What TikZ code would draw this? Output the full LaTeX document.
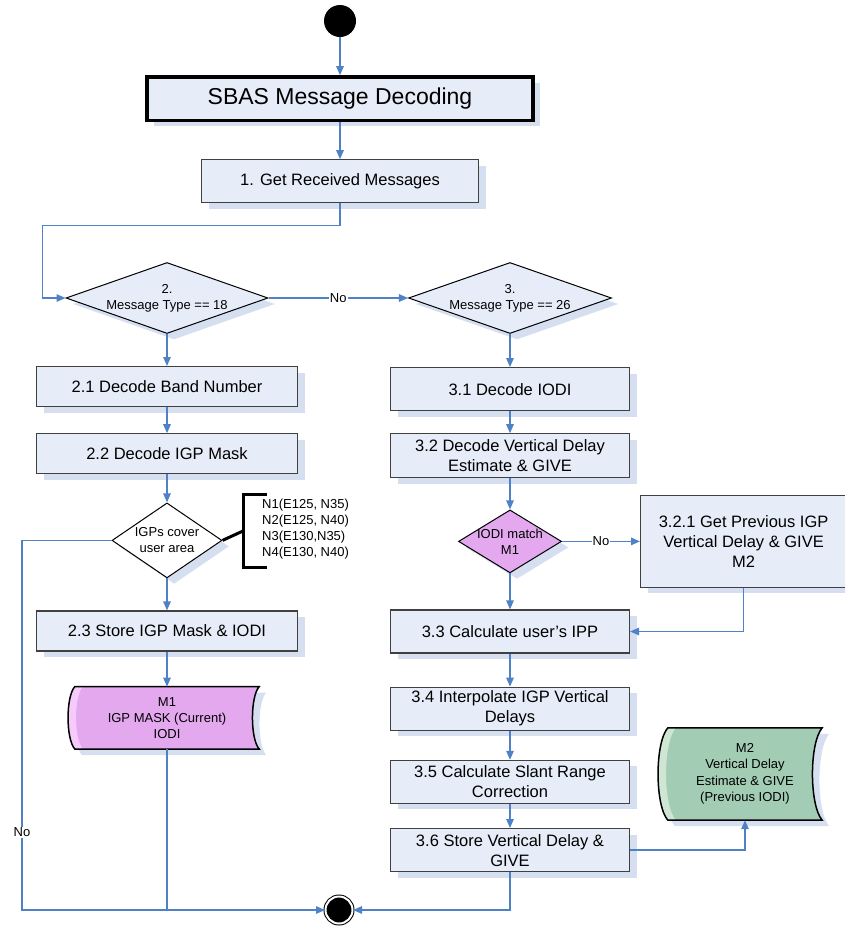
\documentclass[tikz,border=0pt]{standalone}
\usepackage{fontspec}
\setmainfont{Liberation Sans}
\usetikzlibrary{positioning,shapes.geometric,shadows,arrows.meta,backgrounds}

\definecolor{boxfill}{RGB}{231,237,248}
\definecolor{boxline}{RGB}{64,64,64}
\definecolor{shadowblue}{RGB}{214,223,240}
\definecolor{flowblue}{RGB}{79,129,199}
\definecolor{maskpink}{RGB}{227,168,238}
\definecolor{masklight}{RGB}{246,202,250}
\definecolor{delaygreen}{RGB}{163,204,181}
\definecolor{delaylight}{RGB}{206,230,211}

\newcommand{\procfont}{\fontsize{16.5}{20}\selectfont}
\newcommand{\titlefont}{\fontsize{23}{27}\selectfont}
\newcommand{\notefont}{\fontsize{13}{16}\selectfont}

% stored data outline round a node: #1 node, #2 bulge, #3 control drop, #4 fill, #5 highlight
\newcommand{\storedshape}[5]{%
  \fill[shadowblue] ([shift={(7pt,-6pt)}]#1.north west) -- ([shift={(7pt,-6pt)}]#1.north east)
    .. controls +(-#2,-#3) and +(-#2,#3) .. ([shift={(7pt,-6pt)}]#1.south east)
    -- ([shift={(7pt,-6pt)}]#1.south west)
    .. controls +(-#2,#3) and +(-#2,-#3) .. ([shift={(7pt,-6pt)}]#1.north west) -- cycle;
  \fill[#4] (#1.north west) -- (#1.north east)
    .. controls +(-#2,-#3) and +(-#2,#3) .. (#1.south east)
    -- (#1.south west)
    .. controls +(-#2,#3) and +(-#2,-#3) .. (#1.north west) -- cycle;
  \fill[#5] (#1.north west)
    .. controls +(-#2,-#3) and +(-#2,#3) .. (#1.south west)
    -- ([xshift=8pt]#1.south west)
    .. controls +(-#2,#3) and +(-#2,-#3) .. ([xshift=8pt]#1.north west) -- cycle;
  \draw[black, line width=1.5pt] (#1.north west) -- (#1.north east)
    .. controls +(-#2,-#3) and +(-#2,#3) .. (#1.south east)
    -- (#1.south west)
    .. controls +(-#2,#3) and +(-#2,-#3) .. (#1.north west) -- cycle;
}

\begin{document}
\begin{tikzpicture}[%
  x=1pt, y=-1pt,
  >={Triangle[length=9pt,width=7.5pt]},
  flow/.style={->, draw=flowblue, line width=1.3pt},
  plainline/.style={draw=flowblue, line width=1.3pt},
  bracket/.style={draw=black, line width=3pt},
  boxshadow/.style={drop shadow={shadow xshift=7pt, shadow yshift=-6pt, fill=shadowblue, opacity=1}},
  stepbox/.style={rectangle, draw=boxline, line width=1.2pt, fill=boxfill, boxshadow,
    align=center, inner sep=2pt, font=\procfont, minimum height=40pt},
  titlebox/.style={stepbox, draw=black, line width=3.5pt, font=\titlefont},
  leftbox/.style={stepbox, minimum width=261pt},
  rightbox/.style={stepbox, minimum width=239pt, minimum height=43pt},
  decision/.style={diamond, draw=black, line width=1pt, fill=boxfill, boxshadow, inner sep=0pt},
  dtext/.style={font=\notefont, align=center},
  nolabel/.style={font=\notefont, fill=white, inner sep=1pt},
  stored/.style={rectangle, inner sep=0pt, align=center, font=\notefont},
  startstate/.style={circle, fill=black, minimum size=32pt, inner sep=0pt},
  stopstate/.style={circle, fill=black, draw=black, double=white, double distance=2pt,
    line width=1pt, minimum size=27pt, inner sep=0pt}
  ]
  \useasboundingbox (0,0) rectangle (845,927);
  %% Nodes
  \node[startstate] (start) at (340,21) {};
  \node[titlebox, minimum width=386pt, minimum height=43.5pt, below=38pt of start] (sbas) {SBAS Message Decoding};
  \node[stepbox, minimum width=277pt, minimum height=43pt, below=37pt of sbas] (get) {1. Get Received Messages};
  \node[decision, minimum width=202pt, minimum height=71pt,
    label={[dtext]center:2.\\Message Type == 18}] (d2) at (167,298) {};
  \node[decision, minimum width=203pt, minimum height=71pt,
    label={[dtext]center:3.\\Message Type == 26}] (d3) at (510,298) {};
  % left branch
  \node[leftbox, below=32pt of d2] (b21) {2.1 Decode Band Number};
  \node[leftbox, below=26pt of b21] (b22) {2.2 Decode IGP Mask};
  \node[decision, fill=white, minimum width=110pt, minimum height=75pt, below=28pt of b22,
    label={[dtext]center:IGPs cover\\user area}] (igps) {};
  \node[dtext, align=left, anchor=west, inner sep=0pt] (igplist) at (262,529)
    {N1(E125, N35)\\N2(E125, N40)\\N3(E130,N35)\\N4(E130, N40)};
  \coordinate (brtop) at (243,494);
  \coordinate (brbot) at (243,567);
  \coordinate (brjoin) at (243,531);
  \node[leftbox, below=32pt of igps] (b23) {2.3 Store IGP Mask \& IODI};
  \node[stored, minimum width=184pt, minimum height=62pt, below=35pt of b23] (m1)
    {M1\\IGP MASK (Current)\\IODI};
  % right branch
  \node[rightbox, below=33pt of d3] (b31) {3.1 Decode IODI};
  \node[rightbox, minimum height=44pt, below=22pt of b31] (b32) {3.2 Decode Vertical Delay\\Estimate \& GIVE};
  \node[decision, fill=maskpink, minimum width=103pt, minimum height=63pt, below=31pt of b32,
    label={[dtext]center:IODI match\\M1}] (iodi) {};
  \node[stepbox, minimum width=206pt, minimum height=92pt, right=78pt of iodi] (b321)
    {3.2.1 Get Previous IGP\\Vertical Delay \& GIVE\\M2};
  \node[rightbox, below=36pt of iodi] (b33) {3.3 Calculate user's IPP};
  \node[rightbox, below=33pt of b33] (b34) {3.4 Interpolate IGP Vertical\\Delays};
  \node[rightbox, below=29pt of b34] (b35) {3.5 Calculate Slant Range\\Correction};
  \node[rightbox, below=24pt of b35] (b36) {3.6 Store Vertical Delay \&\\GIVE};
  \node[stored, font=\fontsize{13}{16.5}\selectfont, minimum width=154pt, minimum height=92pt] (m2) at (745,774)
    {M2\\Vertical Delay\\Estimate \& GIVE\\(Previous IODI)};
  \node[stopstate] (stop) at (339,910) {};
  \coordinate (noturn) at (22,910);
  %% Stored data
  \begin{scope}[on background layer]
    \storedshape{m1}{9pt}{10pt}{maskpink}{masklight}
    \storedshape{m2}{13pt}{15pt}{delaygreen}{delaylight}
  \end{scope}
  %% Edges
  \draw[flow] (start) -- (sbas);
  \draw[flow] (sbas) -- (get);
  \draw[flow] (get.south) -- ++(0,22) -| ([xshift=-23pt]d2.west) -- (d2.west);
  \draw[flow] (d2) -- node[nolabel] {No} (d3);
  \draw[flow] (d2) -- (b21);
  \draw[flow] (b21) -- (b22);
  \draw[flow] (b22) -- (igps);
  \draw[flow] (igps) -- (b23);
  \draw[flow] (b23) -- (m1);
  \draw[flow] (igps.west) -| node[nolabel, pos=0.895] {No} (noturn) -- (stop.west);
  \draw[plainline] (m1.south) -- (m1.south |- noturn);
  \draw[bracket] (igps.east) -- (brjoin);
  \draw[bracket] ([xshift=24pt]brtop) -- (brtop) -- (brbot) -- ([xshift=24pt]brbot);
  \draw[flow] (d3) -- (b31);
  \draw[flow] (b31) -- (b32);
  \draw[flow] (b32) -- (iodi);
  \draw[flow] (iodi) -- node[nolabel] {No} (b321);
  \draw[flow] (iodi) -- (b33);
  \draw[flow] (b321.south) |- (b33.east);
  \draw[flow] (b33) -- (b34);
  \draw[flow] (b34) -- (b35);
  \draw[flow] (b35) -- (b36);
  \draw[flow] (b36.east) -| (m2.south);
  \draw[flow] (b36.south) |- (stop.east);
\end{tikzpicture}
\end{document}
